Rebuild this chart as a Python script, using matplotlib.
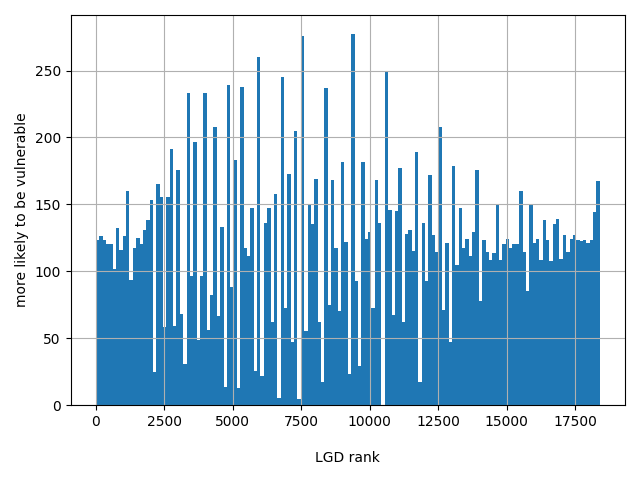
import numpy as np
import matplotlib
matplotlib.use("Agg")
import matplotlib.pyplot as plt

# LGD rank range and per-bin values
rank_min = 0
rank_max = 18400
n_bins = 150
values = [
    123.6, 126, 123, 120.6, 120.6, 101.5, 132, 116, 126, 160,
    93.5, 117, 125, 120.6, 131, 138, 153, 25, 165, 155.5,
    58.5, 155.5, 191, 59, 176, 68, 30.6, 233, 96.5, 196.5,
    48.8, 96.5, 233, 56, 82, 208, 66.7, 133, 13.7, 239,
    88, 183, 12.7, 238, 117, 111.4, 147, 25.6, 260, 22,
    136, 147, 62, 157.5, 5.5, 245, 72.4, 173, 47, 205,
    4.5, 276, 55.5, 149.5, 135, 169, 62, 17.4, 237, 75,
    168, 117.7, 70.4, 182, 122, 23, 277.6, 92.8, 28.9, 181.6,
    124, 129, 72.4, 168, 136, 0, 249, 146, 67, 145,
    177, 62, 128, 131, 115, 189, 17.4, 136, 92.8, 172,
    127, 114.4, 208, 71, 121, 47, 179, 104.7, 147, 117,
    124, 111.4, 129, 175.6, 77.4, 123, 114.4, 108.5, 113.4, 149.5,
    108.5, 120, 124, 117.4, 120, 120, 160, 114.4, 85.3, 149.5,
    121, 124, 108.5, 138, 123.4, 107.7, 135, 139, 109.5, 127,
    114.4, 124, 127, 123, 122.4, 123, 121, 123, 144, 167.4,
]

edges = np.linspace(rank_min, rank_max, n_bins + 1)
centers = (edges[:-1] + edges[1:]) / 2

fig, ax = plt.subplots(figsize=(6.4, 4.8), dpi=100)
ax.hist(centers, bins=edges, weights=values)
ax.grid(True)
ax.set_xlabel("LGD rank", labelpad=16)
ax.set_ylabel("more likely to be vulnerable")
fig.tight_layout()
fig.savefig("out.png", dpi=100)
